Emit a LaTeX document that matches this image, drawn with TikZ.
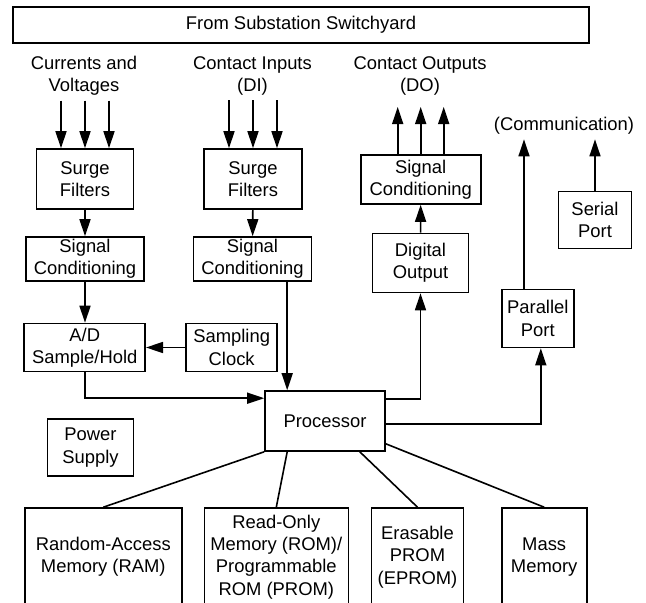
\documentclass[tikz,border=0pt]{standalone}
\usepackage{fontspec}
\setmainfont{Liberation Sans}
\usetikzlibrary{arrows.meta,calc}

\begin{document}
\begin{tikzpicture}[x=1pt,y=-1pt,line width=1.6pt,>={Triangle[length=17pt,width=11pt]},
	font=\fontsize{18.4}{22.3}\selectfont,
	blk/.style={draw,align=center,inner sep=0pt},
	lbl/.style={align=center,inner sep=4pt}]
	\useasboundingbox (0,0) rectangle (646,603);
	\node [blk,minimum width=576,minimum height=36] at (301,25) (yard) {From Substation Switchyard};
	\node [lbl] at (84,76) (cv) {Currents and\\Voltages};
	\node [lbl] at (252.5,76) (di) {Contact Inputs\\(DI)};
	\node [lbl] at (420,76) (do) {Contact Outputs\\(DO)};
	\node [lbl] at (564,126) (comm) {(Communication)};
	\node [blk,minimum width=97,minimum height=60] at (85,179) (sf1) {Surge\\Filters};
	\node [blk,minimum width=118,minimum height=44] at (85,259) (sc1) {Signal\\Conditioning};
	\node [blk,minimum width=121,minimum height=48] at (84.7,347.5) (ad) {A/D\\Sample/Hold};
	\node [blk,minimum width=91,minimum height=48] at (231.7,347.5) (clk) {Sampling\\Clock};
	\node [blk,minimum width=98,minimum height=60] at (253,179) (sf2) {Surge\\Filters};
	\node [blk,minimum width=118,minimum height=44] at (252.5,259) (sc2) {Signal\\Conditioning};
	\node [blk,minimum width=120,minimum height=60] at (325,421) (proc) {Processor};
	\node [blk,minimum width=86,minimum height=57] at (90.5,447.7) (pwr) {Power\\Supply};
	\node [blk,minimum width=120,minimum height=49] at (420.7,179.5) (sc3) {Signal\\Conditioning};
	\node [blk,minimum width=96,minimum height=59] at (420.5,263) (dout) {Digital\\Output};
	\node [blk,minimum width=72,minimum height=58] at (537.8,318.5) (par) {Parallel\\Port};
	\node [blk,minimum width=73,minimum height=57] at (595,220) (ser) {Serial\\Port};
	\foreach \x/\w/\n/\t in {103.3/157/ram/{Random-Access\\Memory (RAM)}, 276.3/144/rom/{Read-Only\\Memory (ROM)/\\Programmable\\ROM (PROM)}, 417.5/92/eprom/{Erasable\\PROM\\(EPROM)}, 544.2/85/mass/{Mass\\Memory}}
		\node [blk,minimum width=\w,minimum height=98] at (\x,557) (\n) {\t};
	\foreach \d in {-24,0,24}{
		\draw [->] ($(sf1.north |- cv.south)+(\d,0)$) -- ($(sf1.north)+(\d,0)$);
		\draw [->] ($(sf2.north |- di.south)+(\d,0)$) -- ($(sf2.north)+(\d,0)$);
	}
	\coordinate (dotip) at (420.7,107);
	\foreach \d in {-23,0,23}
		\draw [->] ($(sc3.north)+(\d,0)$) -- ($(sc3.north |- dotip)+(\d,0)$);
	\draw [->] (sf1) -- (sc1);
	\draw [->] (sc1.south) -- (sc1.south |- ad.north);
	\draw [->] (sf2) -- (sc2);
	\draw [->] (clk) -- (ad);
	\draw [->] (ad.south) |- ($(proc.north west)+(0,8)$);
	\coordinate (pin) at ($(proc.north west)+(23,0)$);
	\draw [->] (pin |- sc2.south) -- (pin);
	\draw [->] ($(proc.north east)+(0,9)$) -| (dout.south);
	\draw [->] (dout) -- (sc3);
	\draw [->] ($(proc.east)+(0,3)$) -| ($(par.south)+(3,0)$);
	\coordinate (pout) at ($(par.north west)+(23,0)$);
	\draw [->] (pout) -- (pout |- comm.south);
	\draw [->] (ser.north) -- (ser.north |- comm.south);
	\draw (proc.south west) -- (ram.north);
	\draw ($(proc.south west)+(23,0)$) -- (rom.north);
	\draw ($(proc.south east)+(-26,0)$) -- (eprom.north);
	\draw ($(proc.south east)+(0,-8)$) -- (mass.north);
\end{tikzpicture}
\end{document}
